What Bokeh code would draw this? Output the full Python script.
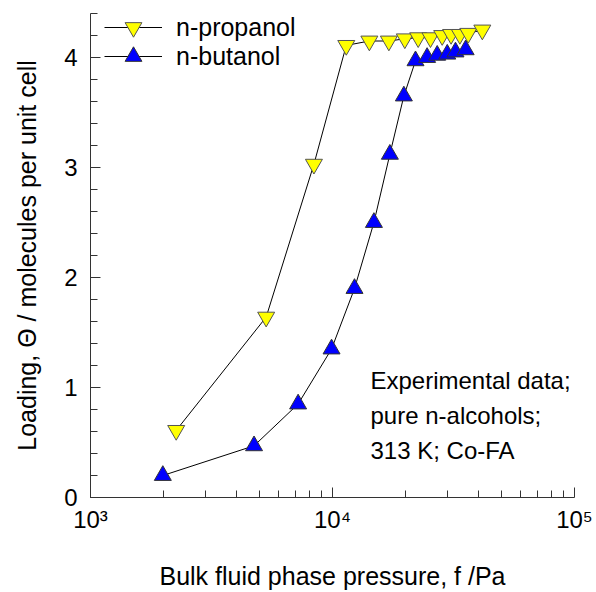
from bokeh.plotting import figure
from bokeh.models import FixedTicker, Label, Legend, LegendItem
from bokeh.embed import file_html
from bokeh.resources import INLINE

# ---- data ----
propanol_f = [2260, 5320, 8380, 11400, 14200, 17100, 19900, 22600, 25400, 28400, 30900, 33600, 36400, 41600]
propanol_theta = [0.61, 1.64, 3.03, 4.11, 4.15, 4.15, 4.17, 4.18, 4.18, 4.20, 4.21, 4.21, 4.22, 4.25]

butanol_f = [1990, 4740, 7210, 9910, 12330, 14830, 17260, 19720, 22030, 24600, 27080, 29800, 32230, 35500]
butanol_theta = [0.20, 0.47, 0.85, 1.35, 1.90, 2.50, 3.12, 3.65, 3.97, 4.00, 4.02, 4.03, 4.05, 4.07]

series_names = ["n-propanol", "n-butanol"]
x_ticks = [1e3, 1e4, 1e5]
x_tick_labels = ["10³", "10⁴", "10⁵"]
y_ticks = [0, 1, 2, 3, 4]
y_tick_labels = ["0", "1", "2", "3", "4"]
x_label = "Bulk fluid phase pressure, f /Pa"
y_label = "Loading, Θ / molecules per unit cell"
note = "Experimental data;\npure n-alcohols;\n313 K; Co-FA"

FONT = "Liberation Sans"
FS_TICK = "24px"
FS = "25px"

p = figure(width=596, height=592, x_axis_type="log",
           x_range=(1e3, 1e5), y_range=(0, 4.4),
           output_backend="svg", toolbar_location=None,
           min_border_left=90, min_border_right=22,
           min_border_top=13, min_border_bottom=95)
p.xgrid.visible = False
p.ygrid.visible = False
p.outline_line_color = None
p.background_fill_color = "white"
p.border_fill_color = "white"

x_minor = [m * d for d in (1e3, 1e4) for m in range(2, 10)]
y_minor = [round(0.2 * i, 1) for i in range(0, 23)]

p.xaxis.ticker = FixedTicker(ticks=x_ticks, minor_ticks=x_minor)
p.xaxis.major_label_overrides = {int(t): s for t, s in zip(x_ticks, x_tick_labels)}
p.yaxis.ticker = FixedTicker(ticks=y_ticks, minor_ticks=y_minor)
p.yaxis.major_label_overrides = {t: s for t, s in zip(y_ticks, y_tick_labels)}

for ax in (p.xaxis[0], p.yaxis[0]):
    ax.axis_line_color = "#333333"
    ax.major_tick_line_color = "#333333"
    ax.minor_tick_line_color = "#333333"
    ax.major_tick_in = 10
    ax.major_tick_out = 0
    ax.minor_tick_in = 7
    ax.minor_tick_out = 0
    ax.major_label_text_font = FONT
    ax.major_label_text_font_size = FS_TICK
    ax.major_label_text_color = "black"
    ax.axis_label_text_font = FONT
    ax.axis_label_text_font_size = FS
    ax.axis_label_text_font_style = "normal"
    ax.axis_label_text_color = "black"

p.xaxis.axis_label = x_label
p.yaxis.axis_label = y_label
p.xaxis.major_label_standoff = 8
p.xaxis.axis_label_standoff = 26
p.yaxis.major_label_standoff = 13
p.yaxis.axis_label_standoff = 20

l1 = p.line(propanol_f, propanol_theta, line_color="black", line_width=1)
s1 = p.scatter(propanol_f, propanol_theta, marker="inverted_triangle", size=17,
               fill_color="#FFFF00", line_color="#555555", line_width=1)
l2 = p.line(butanol_f, butanol_theta, line_color="black", line_width=1)
s2 = p.scatter(butanol_f, butanol_theta, marker="triangle", size=17,
               fill_color="#0000FF", line_color="#333333", line_width=1)

legend_style = dict(glyph_width=58, glyph_height=42, padding=0, margin=0,
                    label_standoff=14, label_text_font=FONT, label_text_font_size=FS,
                    label_text_color="black", border_line_color=None,
                    background_fill_alpha=0)
leg1 = Legend(items=[LegendItem(label=series_names[0], renderers=[l1, s1])],
              location=(14, 449), **legend_style)
leg2 = Legend(items=[LegendItem(label=series_names[1], renderers=[l2, s2])],
              location=(14, 420), **legend_style)
p.add_layout(leg1)
p.add_layout(leg2)

p.add_layout(Label(x=280, y=131, x_units="screen", y_units="screen", text=note,
                   text_font=FONT, text_font_size="24px", text_baseline="top",
                   text_line_height=1.3, text_color="black"))

open("out.html", "w").write(file_html(p, INLINE))
